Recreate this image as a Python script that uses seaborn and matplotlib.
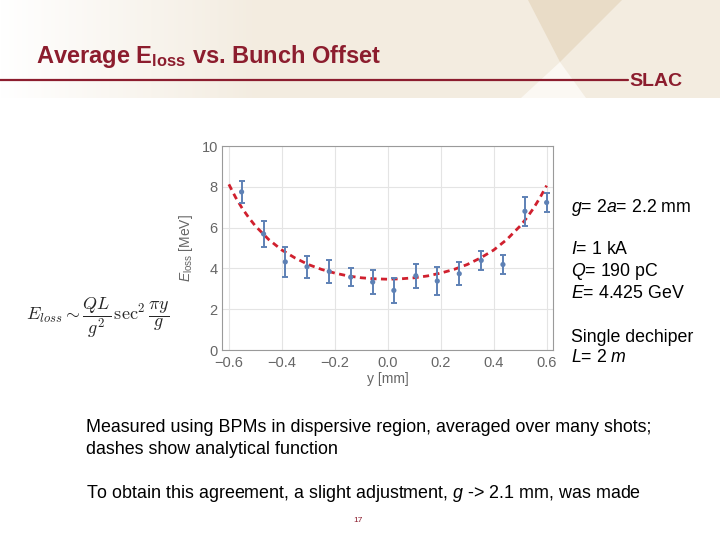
import numpy as np
import pandas as pd
import seaborn as sns
import matplotlib.pyplot as plt
from matplotlib.ticker import MultipleLocator

# measured points (y offset in mm, energy loss in MeV, error bar half-height)
offset_mm = [-0.552, -0.469, -0.387, -0.305, -0.221, -0.140, -0.057, 0.023,
             0.106, 0.187, 0.270, 0.353, 0.435, 0.518, 0.600]
eloss_mev = [7.75, 5.69, 4.32, 4.08, 3.85, 3.57, 3.33, 2.92,
             3.64, 3.38, 3.74, 4.39, 4.19, 6.80, 7.23]
eloss_err = [0.52, 0.65, 0.73, 0.53, 0.57, 0.43, 0.60, 0.62,
             0.60, 0.70, 0.55, 0.46, 0.48, 0.70, 0.48]

# analytical curve
curve_x = [-0.6, -0.575, -0.55, -0.525, -0.5, -0.45, -0.4, -0.35, -0.3, -0.25,
           -0.2, -0.15, -0.1, -0.05, 0.0, 0.05, 0.1, 0.15, 0.2, 0.25, 0.3,
           0.35, 0.4, 0.45, 0.5, 0.525, 0.55, 0.575, 0.6]
curve_y = [8.12, 7.49, 6.95, 6.49, 6.08, 5.42, 4.90, 4.51, 4.19, 3.95,
           3.77, 3.63, 3.54, 3.49, 3.47, 3.49, 3.54, 3.63, 3.77, 3.95, 4.19,
           4.51, 4.90, 5.42, 6.08, 6.48, 6.94, 7.47, 8.06]

xticks = [-0.6, -0.4, -0.2, 0.0, 0.2, 0.4, 0.6]
yticks = [0, 2, 4, 6, 8, 10]

side_lines = [
    (207, r"$\mathit{g}$= 2$\mathit{a}$= 2.2 mm"),
    (250, r"$\mathit{I}$= 1 kA"),
    (272, r"$\mathit{Q}$= 190 pC"),
    (294, r"$\mathit{E}$= 4.425 GeV"),
    (337, "Single dechiper"),
    (358, r"$\mathit{L}$= 2 $\mathit{m}$"),
]
bottom_lines = [
    (428, "Measured using BPMs in dispersive region, averaged over many shots;"),
    (450, "dashes show analytical function"),
    (494, r"To obtain this agreement, a slight adjustment, $\mathit{g}$ -> 2.1 mm, was made"),
]

sns.set_style("white")
plt.rcParams["font.family"] = ["Liberation Sans", "DejaVu Sans"]
plt.rcParams["mathtext.fontset"] = "custom"
plt.rcParams["mathtext.rm"] = "Liberation Sans"
plt.rcParams["mathtext.it"] = "Liberation Sans:italic"
plt.rcParams["mathtext.bf"] = "Liberation Sans:bold"

dark_red = "#8c1d2e"
fig = plt.figure(figsize=(7.2, 5.4), dpi=100)

# slide background in pixel coordinates
bg = fig.add_axes([0, 0, 1, 1])
bg.set_xlim(0, 720)
bg.set_ylim(540, 0)
bg.axis("off")
beige = np.array([243, 236, 224]) / 255.0
ramp = np.clip(np.linspace(0, 720, 720) / 260.0, 0, 1)
band = np.ones((1, 720, 3)) * (1 - ramp[None, :, None]) + beige[None, None, :] * ramp[None, :, None]
bg.imshow(band, extent=(0, 720, 98, 0), aspect="auto", zorder=0)
bg.fill([528, 622, 560], [0, 0, 62], color="#e9dcc7", lw=0, zorder=1)
bg.fill([560, 521, 586], [62, 98, 98], color="#fbf8f3", lw=0, zorder=1)
bg.plot([0, 628], [80, 80], color=dark_red, lw=1.6, zorder=2)
bg.text(629, 82, "SLAC", color=dark_red, fontsize=14, fontweight="bold",
        va="center", ha="left", zorder=3)
bg.text(36, 56, r"Average E$_{\mathbf{loss}}$ vs. Bunch Offset",
        color=dark_red, fontsize=17, fontweight="bold", va="center", ha="left", zorder=3)
for y, s in side_lines:
    bg.text(571, y, s, fontsize=12.8, color="black", va="center", ha="left")
for y, s in bottom_lines:
    bg.text(86, y, s, fontsize=12.9, color="black", va="center", ha="left")
bg.text(358, 521, "17", fontsize=6, color=dark_red, va="center", ha="center")
bg.text(26, 318, r"$E_{loss} \sim \dfrac{QL}{g^2}\,\sec^2\dfrac{\pi y}{g}$",
        fontsize=13, math_fontfamily="cm", va="center", ha="left")

# the chart
ax = fig.add_axes([222 / 720, 1 - 350 / 540, 331 / 720, 204 / 540])
ax.set_zorder(2)
ax.set_facecolor("white")

df_curve = pd.DataFrame({"y": curve_x, "E": curve_y})
sns.lineplot(data=df_curve, x="y", y="E", ax=ax, color="#d0202e", lw=2,
             linestyle=(0, (2.2, 1.6)), zorder=3)
ax.errorbar(offset_mm, eloss_mev, yerr=eloss_err, fmt="none", ecolor="#5e81b5",
            elinewidth=1.4, capsize=2.5, capthick=1.4, zorder=4)
df_pts = pd.DataFrame({"y": offset_mm, "E": eloss_mev})
sns.scatterplot(data=df_pts, x="y", y="E", ax=ax, color="#5e81b5", s=14,
                edgecolor="none", zorder=5)

ax.set_xlim(-0.626, 0.624)
ax.set_ylim(0, 10)
ax.set_xticks(xticks)
ax.set_xticklabels(["\u22120.6", "\u22120.4", "\u22120.2", "0.0", "0.2", "0.4", "0.6"])
ax.set_yticks(yticks)
ax.xaxis.set_minor_locator(MultipleLocator(0.05))
ax.yaxis.set_minor_locator(MultipleLocator(0.5))
ax.grid(True, which="major", color="#e4e4e4", lw=0.8)
ax.set_axisbelow(True)
ax.tick_params(which="major", direction="in", length=4, width=0.8, color="#999999",
               labelcolor="#666666", labelsize=10.5)
ax.tick_params(axis="x", which="major", pad=4)
ax.tick_params(axis="y", which="major", pad=3)
ax.tick_params(which="minor", direction="in", length=2, width=0.6, color="#999999")
for sp in ax.spines.values():
    sp.set_color("#9a9a9a")
    sp.set_linewidth(0.8)
ax.set_xlabel("y [mm]", color="#666666", fontsize=10, labelpad=2)
ax.set_ylabel(r"$\mathit{E}_{\mathregular{loss}}$ [MeV]", color="#666666",
              fontsize=10, labelpad=5)

fig.savefig("out.png", dpi=100)
